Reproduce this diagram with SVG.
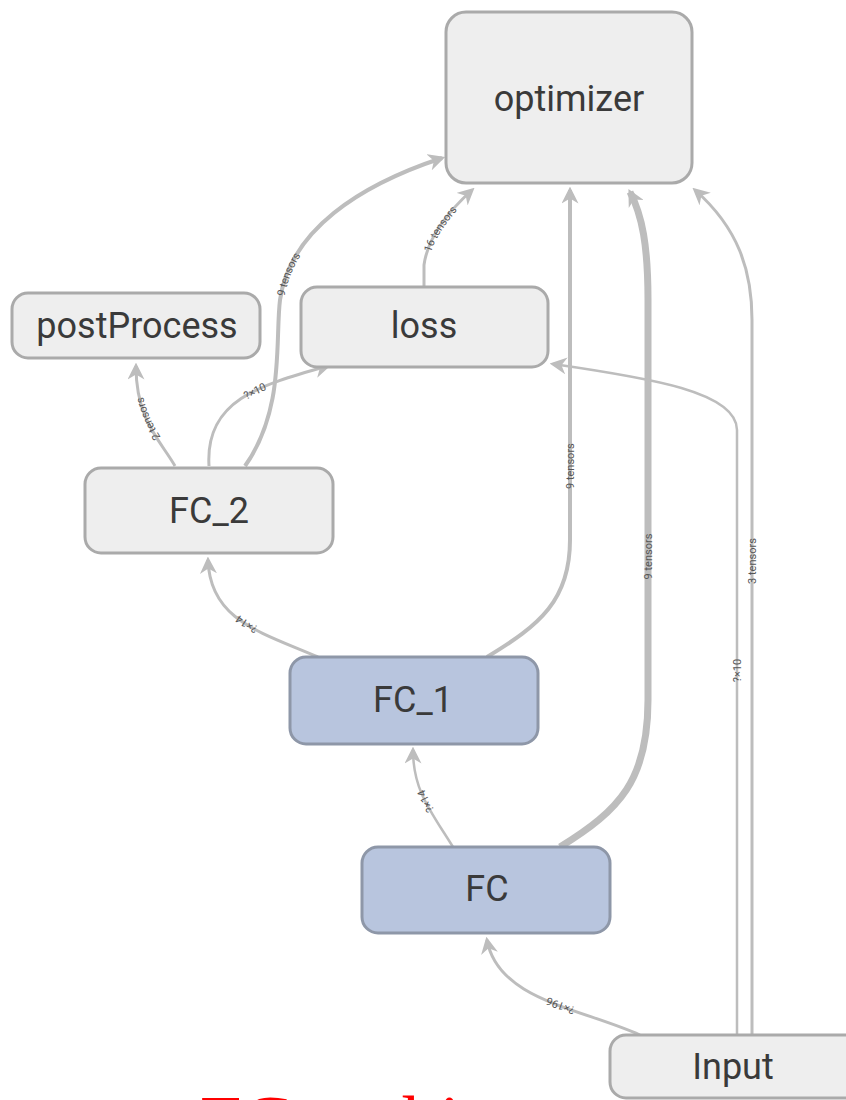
<svg xmlns="http://www.w3.org/2000/svg" width="846" height="1100" viewBox="0 0 846 1100">
  <style>
    .node rect { stroke-width: 3; }
    .gray rect { fill: #eeeeee; stroke: #aaaaaa; }
    .blue rect { fill: #b8c5de; stroke: #8e97a8; }
    .node text { font-family: Roboto, "Liberation Sans", sans-serif; font-size: 36px; fill: #3a3a3a; text-anchor: middle; dominant-baseline: central; }
    .edge { fill: none; stroke: #bdbdbd; stroke-width: 3; marker-end: url(#arr); }
    .lbl { font-family: Roboto, "Liberation Sans", sans-serif; font-size: 11px; fill: #555555; }
    .title { font-family: "Liberation Serif", serif; font-size: 75px; fill: #ff0000; }
  </style>
  <defs>
    <marker id="arr" viewBox="0 0 10 10" refX="8" refY="5" markerWidth="17" markerHeight="17" markerUnits="userSpaceOnUse" orient="auto">
      <path d="M0,0 L10,5 L0,10 L3,5 z" fill="#bdbdbd"/>
    </marker>
  </defs>

  <!-- connectors -->
  <g id="edges">
    <path id="e_fc2_post" class="edge" d="M175,466 C160,440 136,420 136,366"/>
    <path id="e_fc2_loss" class="edge" d="M209,466 C205,400 260,385 328,366"/>
    <path id="e_fc2_opt" class="edge" style="stroke-width:4" d="M245,466 C285,410 275,340 280,300 C290,230 360,185 442,158"/>
    <path id="e_loss_opt" class="edge" d="M424,287 L424,265 C428,235 450,210 472,190"/>
    <path id="e_fc1_opt" class="edge" style="stroke-width:4" d="M487,657 C540,625 570,600 570,540 L570,190"/>
    <path id="e_fc1_fc2" class="edge" d="M318,657 C260,632 210,620 208,560"/>
    <path id="e_fc_fc1" class="edge" style="stroke-width:2.5" d="M453,847 C430,810 413,790 413,750"/>
    <path id="e_fc_opt" class="edge" style="stroke-width:7" d="M560,847 C620,810 648,780 648,700 L648,300 C648,245 642,215 630,192"/>
    <path id="e_in_fc" class="edge" d="M640,1035 C580,1008 498,1000 487,940"/>
    <path id="e_in_loss" class="edge" style="stroke-width:2.5" d="M737,1035 L737,430 C737,392 650,378 553,364"/>
    <path id="e_in_opt" class="edge" d="M752,1035 L752,320 C752,270 738,228 695,190"/>

    <text class="lbl" dy="4"><textPath href="#e_fc2_post" startOffset="50%" text-anchor="middle">2 tensors</textPath></text>
    <text class="lbl" dy="4"><textPath href="#e_fc2_loss" startOffset="55%" text-anchor="middle">?×10</textPath></text>
    <text class="lbl" dy="4"><textPath href="#e_fc2_opt" startOffset="50%" text-anchor="middle">9 tensors</textPath></text>
    <text class="lbl" dy="4"><textPath href="#e_loss_opt" startOffset="55%" text-anchor="middle">16 tensors</textPath></text>
    <text class="lbl" dy="4"><textPath href="#e_fc1_opt" startOffset="45%" text-anchor="middle">9 tensors</textPath></text>
    <text class="lbl" dy="4"><textPath href="#e_fc1_fc2" startOffset="50%" text-anchor="middle">?×14</textPath></text>
    <text class="lbl" dy="4"><textPath href="#e_fc_fc1" startOffset="50%" text-anchor="middle">?×14</textPath></text>
    <text class="lbl" dy="4"><textPath href="#e_fc_opt" startOffset="47%" text-anchor="middle">9 tensors</textPath></text>
    <text class="lbl" dy="4"><textPath href="#e_in_fc" startOffset="45%" text-anchor="middle">?×196</textPath></text>
    <text class="lbl" dy="4"><textPath href="#e_in_loss" startOffset="45%" text-anchor="middle">?×10</textPath></text>
    <text class="lbl" dy="4"><textPath href="#e_in_opt" startOffset="55%" text-anchor="middle">3 tensors</textPath></text>
  </g>

  <!-- nodes -->
  <g id="optimizer" class="node gray">
    <rect x="446" y="12" width="246" height="171" rx="20"/>
    <text x="569" y="99">optimizer</text>
  </g>
  <g id="postProcess" class="node gray">
    <rect x="12" y="293" width="248" height="65" rx="16"/>
    <text x="137" y="326">postProcess</text>
  </g>
  <g id="loss" class="node gray">
    <rect x="301" y="287" width="247" height="80" rx="16"/>
    <text x="424" y="326">loss</text>
  </g>
  <g id="FC_2" class="node gray">
    <rect x="85" y="468" width="248" height="85" rx="16"/>
    <text x="209" y="511">FC_2</text>
  </g>
  <g id="FC_1" class="node blue">
    <rect x="290" y="657" width="248" height="87" rx="16"/>
    <text x="413" y="700">FC_1</text>
  </g>
  <g id="FC" class="node blue">
    <rect x="362" y="847" width="248" height="86" rx="16"/>
    <text x="487" y="889">FC</text>
  </g>
  <g id="Input" class="node gray">
    <rect x="610" y="1035" width="250" height="63" rx="16"/>
    <text x="733" y="1067">Input</text>
  </g>

  <!-- caption below the graph -->
  <text class="title" x="200" y="1147">FC architecture</text>
</svg>
